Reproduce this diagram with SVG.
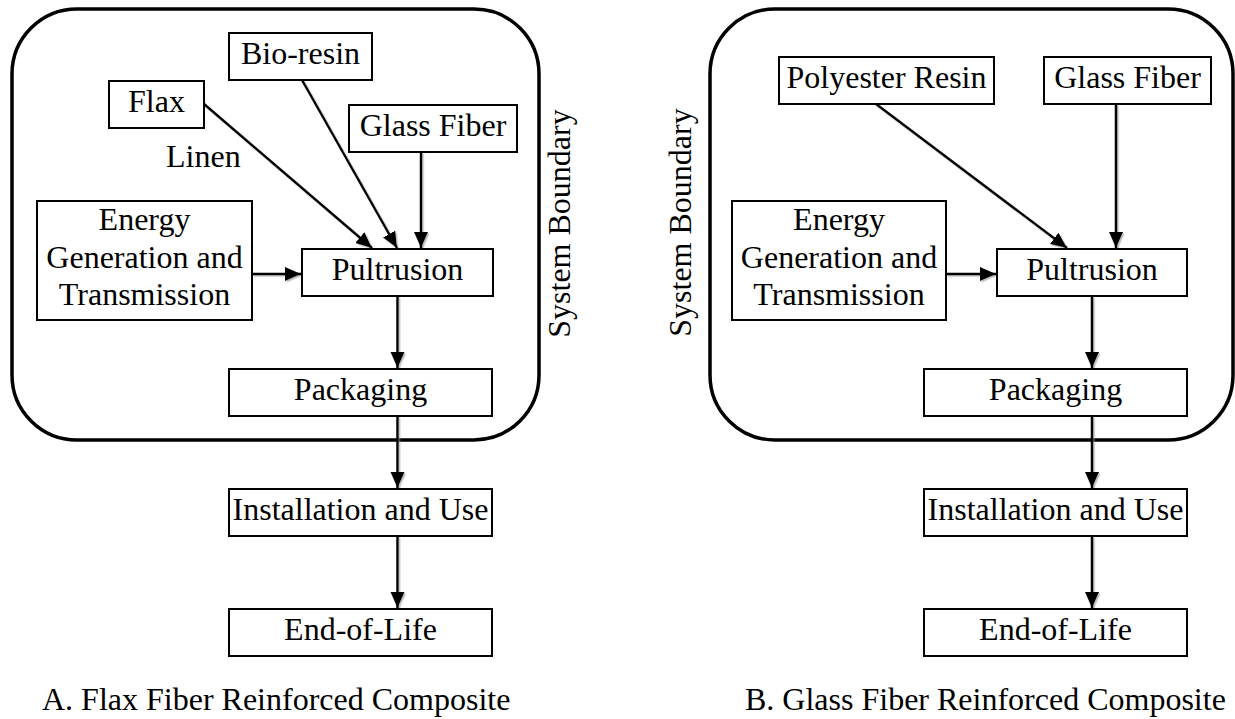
<svg xmlns="http://www.w3.org/2000/svg" width="1235" height="719" viewBox="0 0 1235 719">
<defs>
<style>
.bnd{fill:none;stroke:#000;stroke-width:3.5}
.box{fill:#fff;stroke:#000;stroke-width:2}
.t{font-family:'Liberation Serif','Times New Roman',serif;font-size:32px;fill:#000}
.m{text-anchor:middle}
.c{stroke:#000;stroke-width:2.5;fill:none;marker-end:url(#ah)}
</style>
<marker id="ah" markerUnits="userSpaceOnUse" markerWidth="18" markerHeight="16" refX="16" refY="7" orient="auto">
<path d="M0,0 L16,7 L0,14 z" fill="#000"/>
</marker>
<filter id="sh" x="-10%" y="-10%" width="120%" height="120%">
<feDropShadow dx="1.5" dy="1.5" stdDeviation="0.6" flood-color="#888" flood-opacity="0.55"/>
</filter>
</defs>
<rect width="1235" height="719" fill="#fff"/>
<!-- Panel A -->
<g id="boundaryA">
<rect class="bnd" x="12" y="9" width="527" height="431" rx="65" ry="65"/>
<text class="t m" transform="translate(570,223.5) rotate(-90)">System Boundary</text>
</g>
<g id="connectorsA" filter="url(#sh)">
<line class="c" x1="204" y1="104" x2="372" y2="248"/>
<line class="c" x1="302" y1="80" x2="397" y2="248"/>
<line class="c" x1="421" y1="152" x2="421" y2="248"/>
<line class="c" x1="252" y1="274" x2="301" y2="274"/>
<line class="c" x1="397.5" y1="296" x2="397.5" y2="368"/>
<line class="c" x1="397.5" y1="416" x2="397.5" y2="488"/>
<line class="c" x1="397.5" y1="536" x2="397.5" y2="608"/>
</g>
<text id="linenA" class="t" x="166" y="167">Linen</text>
<g id="bioresinA"><rect class="box" x="229" y="33" width="143" height="47"/><text class="t m" x="300.5" y="64">Bio-resin</text></g>
<g id="flaxA"><rect class="box" x="109" y="81" width="95" height="47"/><text class="t m" x="156.5" y="112">Flax</text></g>
<g id="glassA"><rect class="box" x="349" y="105" width="168" height="47"/><text class="t m" x="433" y="136">Glass Fiber</text></g>
<g id="energyA"><rect class="box" x="37" y="201" width="215" height="119"/>
<text class="t m" x="144.5" y="230">Energy</text>
<text class="t m" x="144.5" y="268">Generation and</text>
<text class="t m" x="144.5" y="305">Transmission</text></g>
<g id="pultrusionA"><rect class="box" x="302" y="249" width="191" height="47"/><text class="t m" x="397.5" y="280">Pultrusion</text></g>
<g id="packagingA"><rect class="box" x="229" y="369" width="263" height="47"/><text class="t m" x="360.5" y="400">Packaging</text></g>
<g id="installA"><rect class="box" x="229" y="489" width="263" height="47"/><text class="t m" x="360.5" y="520">Installation and Use</text></g>
<g id="eolA"><rect class="box" x="229" y="609" width="263" height="47"/><text class="t m" x="360.5" y="640">End-of-Life</text></g>
<text id="captionA" class="t" x="42" y="710">A. Flax Fiber Reinforced Composite</text>

<!-- Panel B -->
<g id="boundaryB">
<rect class="bnd" x="710" y="9" width="523" height="431" rx="65" ry="65"/>
<text class="t m" transform="translate(691,222.5) rotate(-90)">System Boundary</text>
</g>
<g id="connectorsB" filter="url(#sh)">
<line class="c" x1="876" y1="104" x2="1067" y2="248"/>
<line class="c" x1="1116" y1="104" x2="1116" y2="248"/>
<line class="c" x1="946" y1="274" x2="996" y2="274"/>
<line class="c" x1="1092" y1="296" x2="1092" y2="368"/>
<line class="c" x1="1092" y1="416" x2="1092" y2="488"/>
<line class="c" x1="1092" y1="536" x2="1092" y2="608"/>
</g>
<g id="polyesterB"><rect class="box" x="779" y="57" width="215" height="47"/><text class="t m" x="886.5" y="88">Polyester Resin</text></g>
<g id="glassB"><rect class="box" x="1044" y="57" width="167" height="47"/><text class="t m" x="1127.5" y="88">Glass Fiber</text></g>
<g id="energyB"><rect class="box" x="732" y="201" width="214" height="119"/>
<text class="t m" x="839" y="230">Energy</text>
<text class="t m" x="839" y="268">Generation and</text>
<text class="t m" x="839" y="305">Transmission</text></g>
<g id="pultrusionB"><rect class="box" x="997" y="249" width="190" height="47"/><text class="t m" x="1092" y="280">Pultrusion</text></g>
<g id="packagingB"><rect class="box" x="924" y="369" width="263" height="47"/><text class="t m" x="1055.5" y="400">Packaging</text></g>
<g id="installB"><rect class="box" x="924" y="489" width="263" height="47"/><text class="t m" x="1055.5" y="520">Installation and Use</text></g>
<g id="eolB"><rect class="box" x="924" y="609" width="263" height="47"/><text class="t m" x="1055.5" y="640">End-of-Life</text></g>
<text id="captionB" class="t" x="745" y="710">B. Glass Fiber Reinforced Composite</text>
</svg>
